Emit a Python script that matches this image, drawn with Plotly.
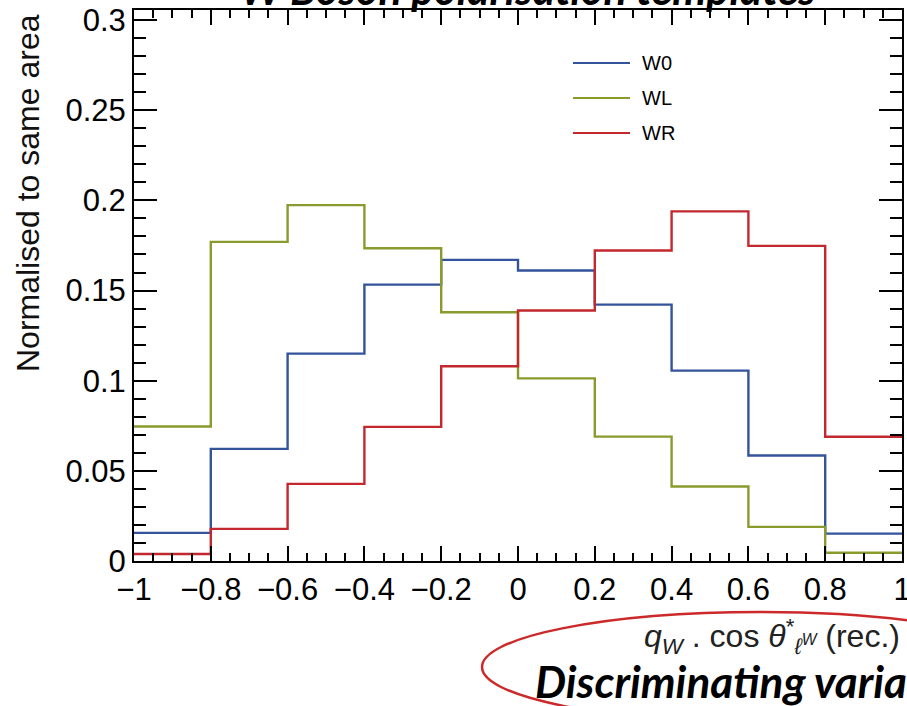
import plotly.graph_objects as go

# Bin edges of the discriminating variable q_W * cos(theta*)
bin_edges = [-1.0, -0.8, -0.6, -0.4, -0.2, 0.0, 0.2, 0.4, 0.6, 0.8, 1.0]

# Normalised template contents per bin
w0_vals = [0.0156, 0.0622, 0.1150, 0.1533, 0.1670, 0.1611, 0.1422, 0.1056, 0.0585, 0.0152]
wl_vals = [0.0746, 0.1770, 0.1974, 0.1735, 0.1380, 0.1013, 0.0690, 0.0413, 0.0189, 0.0046]
wr_vals = [0.0039, 0.0178, 0.0428, 0.0744, 0.1080, 0.1389, 0.1722, 0.1939, 0.1748, 0.0689]

series_names = ["W0", "WL", "WR"]
series_colors = ["#33539a", "#8a9b2e", "#c2282e"]

# Axis tick positions and labels
x_tick_vals = [-1.0, -0.8, -0.6, -0.4, -0.2, 0.0, 0.2, 0.4, 0.6, 0.8, 1.0]
x_tick_text = ["\u22121", "\u22120.8", "\u22120.6", "\u22120.4", "\u22120.2", "0", "0.2", "0.4", "0.6", "0.8", "1"]
y_tick_vals = [0.0, 0.05, 0.1, 0.15, 0.2, 0.25, 0.3]
y_tick_text = ["0", "0.05", "0.1", "0.15", "0.2", "0.25", "0.3"]

W, H = 907, 706
ML, MR, MT, MB = 134, 5, 10, 145
PW, PH = W - ML - MR, H - MT - MB


def px_x(px):
    return (px - ML) / PW


def px_y(py):
    return (H - MB - py) / PH


fig = go.Figure()

for name, vals, col in zip(series_names, [w0_vals, wl_vals, wr_vals], series_colors):
    fig.add_trace(go.Scatter(
        x=bin_edges,
        y=vals + [vals[-1]],
        mode="lines",
        line=dict(shape="hv", color=col, width=2.4),
        name=name,
        showlegend=False,
        hoverinfo="skip",
    ))

tick_font = dict(family="Liberation Sans, Arial, sans-serif", size=31, color="black")

fig.update_layout(
    width=W, height=H,
    margin=dict(l=ML, r=MR, t=MT, b=MB, pad=0, autoexpand=False),
    paper_bgcolor="white", plot_bgcolor="white",
    xaxis=dict(
        range=[-1, 1], tickmode="array", tickvals=x_tick_vals, ticktext=x_tick_text,
        ticks="inside", ticklen=15, tickwidth=1.5, tickcolor="black",
        minor=dict(dtick=0.05, tick0=0, ticks="inside", ticklen=8, tickwidth=1.5, tickcolor="black"),
        showline=True, linewidth=2, linecolor="black", mirror="ticks",
        showgrid=False, zeroline=False, tickfont=tick_font,
        ticklabeloverflow="allow", automargin=False,
    ),
    yaxis=dict(
        range=[0, 0.3056], tickmode="array", tickvals=y_tick_vals, ticktext=y_tick_text,
        ticks="inside", ticklen=23, tickwidth=1.5, tickcolor="black",
        minor=dict(dtick=0.01, tick0=0, ticks="inside", ticklen=12, tickwidth=1.5, tickcolor="black"),
        showline=True, linewidth=2, linecolor="black", mirror="ticks",
        showgrid=False, zeroline=False, tickfont=tick_font,
        ticklabeloverflow="allow", automargin=False,
    ),
)

annotations = []
shapes = []

# Title (partly above the page)
annotations.append(dict(
    text="<b><i>W Boson polarisation templates</i></b>",
    xref="paper", yref="paper", x=px_x(528), y=px_y(-12),
    xanchor="center", yanchor="middle", showarrow=False,
    font=dict(family="Lato, Open Sans, sans-serif", size=43, color="black"),
))

# Y axis title
annotations.append(dict(
    text="Normalised to same area",
    xref="paper", yref="paper", x=px_x(28), y=px_y(193),
    xanchor="center", yanchor="middle", textangle=-90, showarrow=False,
    font=dict(family="Liberation Sans, Arial, sans-serif", size=32, color="#111"),
))

# X axis title
annotations.append(dict(
    text="<i>q</i><sub><i>W</i></sub> . cos <i>θ</i><sup>*</sup><sub><i>ℓ</i><sup><i>W</i></sup></sub> (rec.)",
    xref="paper", yref="paper", x=px_x(902), y=px_y(636),
    xanchor="right", yanchor="middle", showarrow=False,
    font=dict(family="Liberation Sans, Arial, sans-serif", size=32, color="#222"),
))

# Highlight ellipse and caption
shapes.append(dict(
    type="circle", xref="paper", yref="paper",
    x0=px_x(482), x1=px_x(1038), y0=px_y(722), y1=px_y(612),
    line=dict(color="#cc2a2a", width=2.5), layer="above",
))
annotations.append(dict(
    text="<b><i>Discriminating variable</i></b>",
    xref="paper", yref="paper", x=px_x(533), y=px_y(681),
    xanchor="left", yanchor="middle", showarrow=False,
    font=dict(family="Lato, Open Sans, sans-serif", size=44, color="black"),
))

# Legend entries
for i, (name, col) in enumerate(zip(series_names, series_colors)):
    ly = 63 + 35 * i
    shapes.append(dict(
        type="line", xref="paper", yref="paper",
        x0=px_x(573), x1=px_x(630), y0=px_y(ly), y1=px_y(ly),
        line=dict(color=col, width=2.2),
    ))
    annotations.append(dict(
        text=name, xref="paper", yref="paper", x=px_x(640), y=px_y(ly),
        xanchor="left", yanchor="middle", showarrow=False,
        font=dict(family="Liberation Sans, Arial, sans-serif", size=20, color="black"),
    ))

fig.update_layout(annotations=annotations, shapes=shapes)

fig.write_html("out.html")
